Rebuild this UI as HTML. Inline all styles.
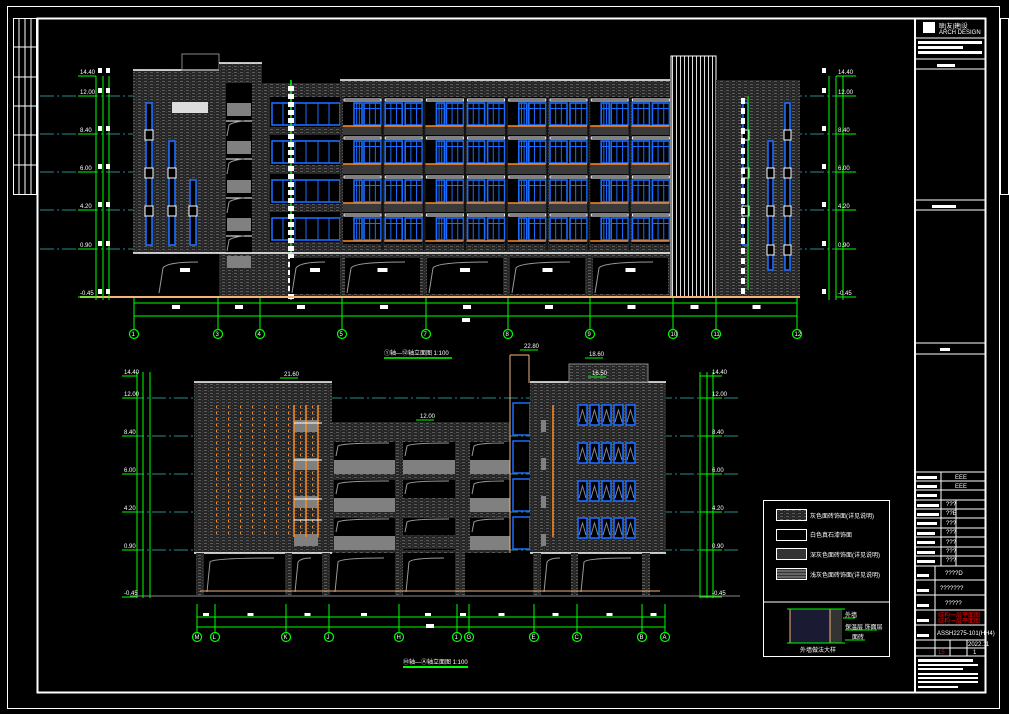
<!DOCTYPE html>
<html><head><meta charset="utf-8"><style>
html,body{margin:0;padding:0;background:#000;width:1009px;height:714px;overflow:hidden}
svg{display:block}
text{font-family:"Liberation Sans","Noto Sans CJK SC",sans-serif;fill:#fff;font-size:6px}
</style></head><body>
<svg id="s" width="1009" height="714" viewBox="0 0 1009 714" xmlns="http://www.w3.org/2000/svg">
<defs>
<pattern id="h" width="6" height="3" patternUnits="userSpaceOnUse">
<rect width="6" height="3" fill="#262626"/>
<rect x="0" y="0" width="3" height="1" fill="#5a5a5a"/>
<rect x="4" y="1" width="1" height="1" fill="#444"/>
</pattern>
<pattern id="t" width="4" height="10" patternUnits="userSpaceOnUse">
<rect width="4" height="10" fill="#000"/><rect x="0" width="1" height="10" fill="#ddd"/>
</pattern>
</defs>
<!-- frames -->
<rect x="7.5" y="6.5" width="992" height="702" fill="none" stroke="#fff"/>
<rect x="37.5" y="18.5" width="948" height="674" fill="none" stroke="#fff" stroke-width="2"/>
<rect x="13.5" y="18.5" width="23" height="176" fill="none" stroke="#fff"/>
<g stroke="#fff"><line x1="19" y1="18" x2="19" y2="194"/><line x1="25" y1="18" x2="25" y2="194"/><line x1="31" y1="18" x2="31" y2="194"/>
<line x1="13" y1="47" x2="37" y2="47"/><line x1="13" y1="77" x2="37" y2="77"/><line x1="13" y1="106" x2="37" y2="106"/><line x1="13" y1="135" x2="37" y2="135"/><line x1="13" y1="165" x2="37" y2="165"/></g>
<rect x="1000.5" y="18.5" width="8" height="176" fill="none" stroke="#fff"/>
<!-- title block -->
<g stroke="#fff" fill="none">
<line x1="915" y1="18" x2="915" y2="693" stroke-width="2"/>
<line x1="915" y1="38" x2="985" y2="38"/><line x1="915" y1="59" x2="985" y2="59"/><line x1="915" y1="69" x2="985" y2="69"/>
<line x1="915" y1="200" x2="985" y2="200"/><line x1="915" y1="210" x2="985" y2="210"/>
<line x1="915" y1="343" x2="985" y2="343"/><line x1="915" y1="354" x2="985" y2="354"/>
<line x1="915" y1="472" x2="985" y2="472"/>
<line x1="915" y1="481" x2="985" y2="481"/><line x1="915" y1="490" x2="985" y2="490"/><line x1="915" y1="500" x2="985" y2="500"/>
<line x1="915" y1="509" x2="985" y2="509"/><line x1="915" y1="518" x2="985" y2="518"/><line x1="915" y1="528" x2="985" y2="528"/>
<line x1="915" y1="537" x2="985" y2="537"/><line x1="915" y1="547" x2="985" y2="547"/><line x1="915" y1="556" x2="985" y2="556"/>
<line x1="915" y1="566" x2="985" y2="566"/><line x1="915" y1="580" x2="985" y2="580"/><line x1="915" y1="595" x2="985" y2="595"/>
<line x1="915" y1="610" x2="985" y2="610"/><line x1="915" y1="625" x2="985" y2="625"/><line x1="915" y1="640" x2="985" y2="640"/>
<line x1="915" y1="648" x2="985" y2="648"/><line x1="915" y1="656" x2="985" y2="656"/>
<line x1="941" y1="472" x2="941" y2="566"/><line x1="956" y1="500" x2="956" y2="566"/><line x1="935" y1="566" x2="935" y2="640"/>
<line x1="935" y1="640" x2="935" y2="656"/><line x1="950" y1="640" x2="950" y2="656"/><line x1="967" y1="640" x2="967" y2="656"/>
</g>
<rect x="923" y="22" width="12" height="11" fill="#fff"/>
<text x="939" y="28">联|友|建|设</text><text x="939" y="34" font-size="4">ARCH DESIGN</text>
<rect x="918" y="41" width="64" height="3" fill="#fff"/><rect x="918" y="46" width="45" height="3" fill="#fff"/><rect x="918" y="51" width="64" height="3" fill="#fff"/>
<rect x="937" y="64" width="18" height="3" fill="#fff"/><rect x="932" y="205" width="24" height="3" fill="#fff"/><rect x="940" y="348" width="10" height="3" fill="#fff"/>
<text x="955" y="479">EEE</text><text x="955" y="488">EEE</text><text x="946" y="506">???</text><text x="946" y="515">??E</text><text x="946" y="525">???</text><text x="946" y="534">???</text><text x="946" y="544">???</text><text x="946" y="553">???</text><text x="946" y="562">???</text>
<text x="945" y="575">????D</text><text x="940" y="590">???????</text><text x="945" y="605">?????</text>
<text x="938" y="617" fill="#f00" style="fill:#f00">结构一层平面图</text><text x="938" y="623" style="fill:#f00">结构一层平面图</text>
<text x="937" y="635" font-size="5.5">ASSH2275-101(HH4)</text><text x="938" y="654" style="fill:#f00">15</text><text x="968" y="646">2022.11</text><text x="973" y="654">1</text>
<g fill="#fff"><rect x="918" y="659" width="55" height="3"/><rect x="918" y="664" width="60" height="2"/><rect x="918" y="668" width="45" height="2"/><rect x="918" y="673" width="60" height="2"/><rect x="918" y="677" width="60" height="2"/><rect x="918" y="681" width="60" height="2"/><rect x="918" y="686" width="40" height="2"/></g>
<g fill="#fff"><rect x="917" y="476" width="20" height="3"/><rect x="917" y="485" width="20" height="3"/><rect x="917" y="494" width="20" height="3"/><rect x="917" y="504" width="22" height="3"/><rect x="917" y="513" width="22" height="3"/><rect x="917" y="522" width="20" height="3"/><rect x="917" y="532" width="18" height="3"/><rect x="917" y="541" width="18" height="3"/><rect x="917" y="551" width="18" height="3"/><rect x="917" y="560" width="18" height="3"/><rect x="917" y="574" width="12" height="3"/><rect x="917" y="589" width="12" height="3"/><rect x="917" y="604" width="12" height="3"/><rect x="917" y="619" width="12" height="3"/><rect x="917" y="634" width="12" height="3"/></g>
<g id="top"></g>
<g id="bot"></g>
<!-- legend -->
<rect x="763.5" y="500.5" width="126" height="156" fill="none" stroke="#fff"/>
<line x1="763" y1="602" x2="890" y2="602" stroke="#fff"/>
<rect x="776.5" y="509.5" width="30" height="11" fill="url(#h)" stroke="#fff"/>
<rect x="776.5" y="529.5" width="30" height="11" fill="none" stroke="#fff"/>
<rect x="776.5" y="548.5" width="30" height="11" fill="#333" stroke="#fff"/>
<rect x="776.5" y="568.5" width="30" height="11" fill="#333" stroke="#fff"/>
<g stroke="#999"><line x1="777" y1="571" x2="806" y2="571"/><line x1="777" y1="574" x2="806" y2="574"/><line x1="777" y1="577" x2="806" y2="577"/></g>
<text x="810" y="518" font-size="5">灰色面砖饰面(详见说明)</text><text x="810" y="537" font-size="5">白色真石漆饰面</text><text x="810" y="557" font-size="5">深灰色面砖饰面(详见说明)</text><text x="810" y="577" font-size="5">浅灰色面砖饰面(详见说明)</text>
<rect x="790" y="609" width="40" height="34" fill="#1a1a33"/><rect x="830" y="609" width="12" height="34" fill="#333"/>
<line x1="790" y1="609" x2="790" y2="643" stroke="#f5b37a"/><line x1="830" y1="609" x2="830" y2="643" stroke="#f5b37a"/>
<g stroke="#0f0"><line x1="787" y1="609" x2="845" y2="609"/><line x1="787" y1="643" x2="845" y2="643"/><line x1="843" y1="618" x2="855" y2="618"/><line x1="845" y1="630" x2="877" y2="630"/><line x1="845" y1="640" x2="865" y2="640"/></g>
<text x="845" y="617" font-size="4.5">外墙</text><text x="845" y="629" font-size="4.5">保温层 饰面层</text><text x="852" y="639" font-size="4.5">面砖</text><text x="800" y="652" font-size="5">外墙做法大样</text>
</svg>
<script>
const NS="http://www.w3.org/2000/svg";
function el(p,tag,a){const e=document.createElementNS(NS,tag);for(const k in a)e.setAttribute(k,a[k]);p.appendChild(e);return e}
function R(p,x,y,w,h,f,s,sw){return el(p,"rect",{x,y,width:w,height:h,fill:f||"none",stroke:s||"none","stroke-width":sw||1})}
function L(p,x1,y1,x2,y2,s,sw,da){const a={x1,y1,x2,y2,stroke:s,"stroke-width":sw||1};if(da)a["stroke-dasharray"]=da;return el(p,"line",a)}
function T(p,x,y,t,fs){const e=el(p,"text",{x,y});if(fs)e.setAttribute("font-size",fs);e.textContent=t;return e}
function Cir(p,x,y,t){el(p,"circle",{cx:x,cy:y,r:4.5,fill:"none",stroke:"#0f0","stroke-width":1.2});const e=T(p,x-2.5,y+2,t,"5.5");}
function win(p,x,y,w,h){R(p,x,y,w,h,"#000","#1a6cff",1.6);for(let i=1;i<3;i++)L(p,x+w*i/3,y,x+w*i/3,y+h,"#1a6cff",1);L(p,x,y+h*0.25,x+w,y+h*0.25,"#1a6cff",1)}
const BLUE="#1a6cff",OR="#ff8a1a",GR="#0f0",TEAL="#2a8a8a";
const tp=document.getElementById("top");
// levels
[96,134,172,210,249].forEach(y=>L(tp,40,y,845,y,TEAL,1,"14 3 2 3"));
// left block
R(tp,133,70,86,183,"url(#h)");L(tp,133,70,219,70,"#fff",1.5);
R(tp,182,54,37,16,"none","#888");
R(tp,172,102,36,11,"#ddd");
[[146,103,245],[169,141,245],[190,180,245]].forEach(([x,a,b])=>{R(tp,x,a,6,b-a,"#000",BLUE,1.6);[130,168,206].forEach(y=>{if(y>a)R(tp,x-1,y,8,10,"#000","#fff",1)})});
// stair
R(tp,219,63,43,234,"url(#h)");L(tp,219,63,262,63,"#fff",1.5);
R(tp,226,83,26,170,"#000");
[103,141,180,218].forEach(y=>{R(tp,227,y,24,13,"#808080");L(tp,226,y+18,252,y+18,"#fff",1);el(tp,"path",{d:`M227 ${y+33} L229 ${y+22} Q233 ${y+19} 244 ${y+18}`,stroke:"#999",fill:"none"})});
R(tp,227,256,24,12,"#808080");
// section 262-340
R(tp,262,83,78,214,"url(#h)");
[103,141,180,218].forEach(y=>{R(tp,270,y-6,70,30,"#000");R(tp,272,y,68,22,"#000",BLUE,1.6);[283,295,306,318,329].forEach(x=>L(tp,x,y,x,y+22,BLUE,1))});
L(tp,291,80,291,300,GR,1.5);
for(let y=86;y<300;y+=8)R(tp,288,y,6,5,"#fff");
// main
R(tp,340,80,330,217,"url(#h)");L(tp,340,80,670,80,"#fff",1.5);
for(let i=0;i<8;i++){const bx=343+i*41.2;
 [103,141,180,218].forEach((y,k)=>{R(tp,bx,y-6,38,32,"#000");
  if(k<3){R(tp,bx,y+23,38,10,"#3a3a3a");}
  R(tp,bx+1,y-4,37,2,"none","#fff",1);
  if(i%2==0){win(tp,bx+11,y,8,22);win(tp,bx+21,y,17,22)}else{win(tp,bx+1,y,17,22);win(tp,bx+21,y,17,22)}
  L(tp,bx,y+23,bx+38,y+23,OR,1.6);
 });
 L(tp,bx+39.5,98,bx+39.5,250,"#111",2);
}
// ground openings
[[157,213],[290,340],[345,420],[427,503],[510,585],[593,668]].forEach(([a,b])=>{R(tp,a,258,b-a,36,"#000");el(tp,"path",{d:`M${a+2} 293 L${a+6} 268 Q${a+10} 262 ${b-15} 262`,stroke:"#999",fill:"none"});R(tp,(a+b)/2-5,268,10,4,"#fff")});
L(tp,133,253,670,253,"#fff",1.5);
// tower
R(tp,671,56,45,241,"url(#t)");R(tp,671,56,45,241,"none","#fff");
// right block
R(tp,716,80,84,217,"url(#h)");
[[743,103,245],[768,141,270],[785,103,270]].forEach(([x,a,b])=>{R(tp,x,a,5,b-a,"#000",BLUE,1.6);[130,168,206,245].forEach(y=>{if(y>a&&y<b)R(tp,x-1,y,7,10,"#000","#fff",1)})});
L(tp,748,96,748,290,GR,1);for(let y=98;y<290;y+=10)R(tp,741,y,4,6,"#fff");
// ground & dims
L(tp,80,297,800,297,"#f5b37a",2);
[96,103,109].forEach(x=>L(tp,x,76,x,300,GR,1));
[829,836,843].forEach(x=>L(tp,x,76,x,300,GR,1));
[[76,"14.40"],[96,"12.00"],[134,"8.40"],[172,"6.00"],[210,"4.20"],[249,"0.90"],[297,"-0.45"]].forEach(([y,t])=>{L(tp,78,y,96,y,GR,1);T(tp,80,y-2,t,"4.5");L(tp,836,y,856,y,GR,1);T(tp,838,y-2,t,"4.5");for(let k=0;k<2;k++)R(tp,98+k*8,y-8,4,5,"#fff");R(tp,822,y-8,4,5,"#fff")});
const ax=[[134,"1"],[218,"3"],[260,"4"],[342,"5"],[426,"7"],[508,"8"],[590,"9"],[673,"10"],[716,"11"],[797,"12"]];
L(tp,134,303,797,303,GR,1);L(tp,134,316,797,316,GR,1);
ax.forEach(([x,t],i)=>{L(tp,x,298,x,329,GR,1);Cir(tp,x,334,t);if(i<ax.length-1){const m=(x+ax[i+1][0])/2;R(tp,m-4,305,8,4,"#fff")}});
R(tp,462,318,8,4,"#fff");
T(tp,384,355,"①轴—⑫轴立面图 1:100","6.5");L(tp,384,358,452,358,GR,1.5);
// bottom
const bp=document.getElementById("bot");
[398,436,474,512,550].forEach(y=>L(bp,130,y,740,y,TEAL,1,"14 3 2 3"));
// left block
R(bp,194,382,138,171,"url(#h)");L(bp,194,382,332,382,"#fff",1.5);
for(let c=0;c<9;c++)for(let y=406;y<535;y+=6)R(bp,216+c*12,y,1,2,OR);
[403,441,479,517].forEach(y=>R(bp,294,y+17,24,12,"#808080"));
[294,306,318].forEach(x=>L(bp,x,405,x,537,OR,1.5));
[423,460,499,520].forEach(y=>L(bp,294,y,322,y,"#fff",1));
// middle
R(bp,332,422,178,131,"url(#h)");
[[334,395],[403,455],[470,510]].forEach(([a,b])=>{[436,474,512].forEach((y,k)=>{R(bp,a,y+6,b-a,32,"#000");el(bp,"path",{d:`M${a+2} ${y+20} L${a+4} ${y+10} Q${a+8} ${y+7} ${b-6} ${y+7}`,stroke:"#999",fill:"none"});if(!(a==403&&k==1)&&!(a==403&&k==2))R(bp,a,y+24,b-a,14,"#808080")})});
R(bp,403,498,52,14,"url(#h)");R(bp,403,535,52,14,"url(#h)");
// blue tall
L(bp,510,355,510,595,"#f5b37a",1);L(bp,510,355,529,355,"#f5b37a",1);L(bp,529,355,529,383,"#f5b37a",1);
[403,441,479,517,555].forEach(y=>R(bp,513,y,17,32,"#000",BLUE,1.5));
// right block
R(bp,530,382,136,171,"url(#h)");L(bp,530,382,666,382,"#fff",1.5);
R(bp,569,364,79,18,"url(#h)","#888");
[403,441,479,517].forEach(y=>R(bp,541,y+17,5,12,"#808080"));L(bp,553,405,553,537,OR,1.5);
[405,443,481,518].forEach(y=>{for(let c=0;c<5;c++){const x=578+c*12;R(bp,x,y,9,20,"#000",BLUE,1.6);el(bp,"path",{d:`M${x+1} ${y+17} L${x+4.5} ${y+5} L${x+8} ${y+17}`,stroke:"#888",fill:"none"})}});
// pilotis
R(bp,194,553,472,42,"#000");L(bp,194,553,332,553,"#fff",1.5);L(bp,530,553,666,553,"#fff",1.5);
[[196,204],[285,292],[322,330],[395,403],[455,465],[533,541],[571,578],[642,650]].forEach(([a,b])=>R(bp,a,553,b-a,42,"url(#h)"));
[[205,284],[293,321],[333,394],[404,454],[542,570],[579,641]].forEach(([a,b])=>el(bp,"path",{d:`M${a+2} 592 L${a+5} 562 Q${a+8} 558 ${b-10} 558`,stroke:"#999",fill:"none"}));
L(bp,130,596,740,596,"#888",1);L(bp,200,591,660,591,"#f5b37a",1);
[137,143,150].forEach(x=>L(bp,x,372,x,598,GR,1));[700,707,713].forEach(x=>L(bp,x,372,x,598,GR,1));
[[376,"14.40"],[398,"12.00"],[436,"8.40"],[474,"6.00"],[512,"4.20"],[550,"0.90"],[597,"-0.45"]].forEach(([y,t])=>{L(bp,122,y,137,y,GR,1);T(bp,124,y-2,t,"4.5");L(bp,700,y,722,y,GR,1);T(bp,712,y-2,t,"4.5")});
[[280,378,"21.60"],[416,420,"12.00"],[520,350,"22.80"],[585,358,"18.60"],[588,377,"16.50"]].forEach(([x,y,t])=>{L(bp,x,y,x+18,y,GR,1);T(bp,x+4,y-2,t,"4.5")});
const bx2=[[197,"M"],[215,"L"],[286,"K"],[329,"J"],[399,"H"],[457,"1"],[469,"G"],[534,"E"],[577,"C"],[642,"B"],[665,"A"]];
L(bp,197,617,665,617,GR,1);L(bp,197,627,665,627,GR,1);
bx2.forEach(([x,t],i)=>{L(bp,x,604,x,632,GR,1);Cir(bp,x,637,t);if(i<bx2.length-1){const m=(x+bx2[i+1][0])/2;R(bp,m-3,613,6,3,"#fff")}});
R(bp,426,624,8,4,"#fff");
T(bp,403,664,"Ⓜ轴—Ⓐ轴立面图 1:100","6.5");L(bp,403,667,468,667,GR,2);
</script>
</body></html>
